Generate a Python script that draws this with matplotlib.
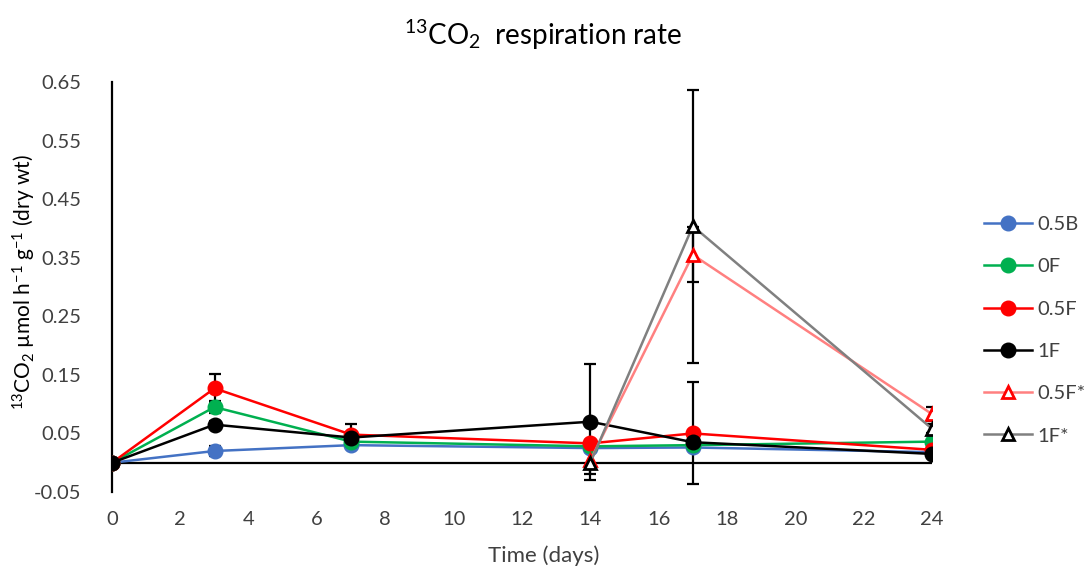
import numpy as np
import matplotlib
matplotlib.use("Agg")
import matplotlib.pyplot as plt

plt.rcParams['font.family'] = ['Lato', 'DejaVu Sans']
plt.rcParams['mathtext.fontset'] = 'custom'
plt.rcParams['mathtext.rm'] = 'Lato'
plt.rcParams['mathtext.it'] = 'Lato:italic'
plt.rcParams['mathtext.bf'] = 'Lato:bold'

# Sampling days
days = [0, 3, 7, 14, 17, 24]
days_star = [14, 17, 24]

# Mean 13CO2 respiration rates (umol h-1 g-1 dry wt)
b05 = [0.0, 0.020, 0.030, 0.025, 0.026, 0.018]
f0 = [0.0, 0.095, 0.036, 0.028, 0.030, 0.036]
f05 = [0.0, 0.127, 0.048, 0.033, 0.050, 0.022]
f1 = [0.0, 0.065, 0.043, 0.070, 0.035, 0.015]
f05_star = [0.004, 0.355, 0.083]
f1_star = [0.000, 0.404, 0.058]

# Error bar half-widths
b05_err = [0.0, 0.008, 0.004, 0.004, 0.004, 0.004]
f0_err = [0.0, 0.010, 0.005, 0.004, 0.004, 0.005]
f05_err = [0.0, 0.025, 0.018, 0.005, 0.087, 0.004]
f1_err = [0.0, 0.006, 0.006, 0.099, 0.006, 0.004]
f05_star_err = [0.015, 0.047, 0.012]
f1_star_err = [0.020, 0.233, 0.008]

labels = ['0.5B', '0F', '0.5F', '1F', '0.5F*', '1F*']
x_ticks = list(range(0, 25, 2))
y_ticks = [-0.05, 0.05, 0.15, 0.25, 0.35, 0.45, 0.55, 0.65]

fig = plt.figure(figsize=(10.87, 5.72), dpi=100)
ax = fig.add_axes([112 / 1087, 1 - 492 / 572, (932 - 112) / 1087, (492 - 82) / 572])

err_kw = dict(ecolor='black', elinewidth=1.6, capsize=4.5, capthick=1.6)
lw = 1.8
ms = 10.5

series = [
    (days, b05, b05_err, '#4472C4', 'o', '#4472C4', '#4472C4'),
    (days, f0, f0_err, '#00B050', 'o', '#00B050', '#00B050'),
    (days, f05, f05_err, '#FF0000', 'o', '#FF0000', '#FF0000'),
    (days, f1, f1_err, '#000000', 'o', '#000000', '#000000'),
    (days_star, f05_star, f05_star_err, '#FF8080', '^', 'white', '#FF0000'),
    (days_star, f1_star, f1_star_err, '#808080', '^', 'white', '#000000'),
]

handles = []
for i, (xs, ys, es, lc, mk, mfc, mec) in enumerate(series):
    ax.errorbar(xs, ys, yerr=es, fmt='none', zorder=2 + i * 0.1, **err_kw)
    size = ms if mk == 'o' else 8.5
    h, = ax.plot(xs, ys, color=lc, lw=lw, marker=mk, ms=size,
                 markerfacecolor=mfc, markeredgecolor=mec,
                 markeredgewidth=2.0 if mk == '^' else 1.0,
                 label=labels[i], zorder=3 + i * 0.1)
    handles.append(h)

ax.axhline(0, color='black', lw=1.6, zorder=1.5)
ax.set_xlim(0, 24)
ax.set_ylim(-0.05, 0.65)
ax.set_xticks(x_ticks)
ax.set_yticks(y_ticks)
ax.set_yticklabels(['%.2f' % v for v in y_ticks])
ax.tick_params(axis='both', length=0, labelsize=14.5, colors='#404040')
ax.tick_params(axis='x', pad=14)
ax.tick_params(axis='y', pad=22)
for s in ['top', 'right', 'bottom']:
    ax.spines[s].set_visible(False)
ax.spines['left'].set_linewidth(1.6)
ax.spines['left'].set_color('black')
ax.spines['left'].set_position(('data', 0))

fig.text(0.5, 1 - 35 / 572, r'$^{13}$CO$_2$  respiration rate', ha='center', va='center',
         fontsize=20, color='#000000')
fig.text(0.5, 1 - 556 / 572, 'Time (days)', ha='center', va='center',
         fontsize=16, color='#404040')
fig.text(24 / 1087, 1 - 282 / 572,
         r'$^{13}$CO$_2$ µmol h$^{\mathregular{-1}}$ g$^{\mathregular{-1}}$ (dry wt)',
         rotation=90, ha='center', va='center', fontsize=15, color='#000000')

fig.legend(handles=handles, loc='upper left', bbox_to_anchor=(974 / 1087, 1 - 206 / 572),
           frameon=False, fontsize=14.5, handlelength=2.4, labelspacing=1.25,
           handletextpad=0.25, borderpad=0, labelcolor='#404040')

fig.savefig('out.png', dpi=100)
